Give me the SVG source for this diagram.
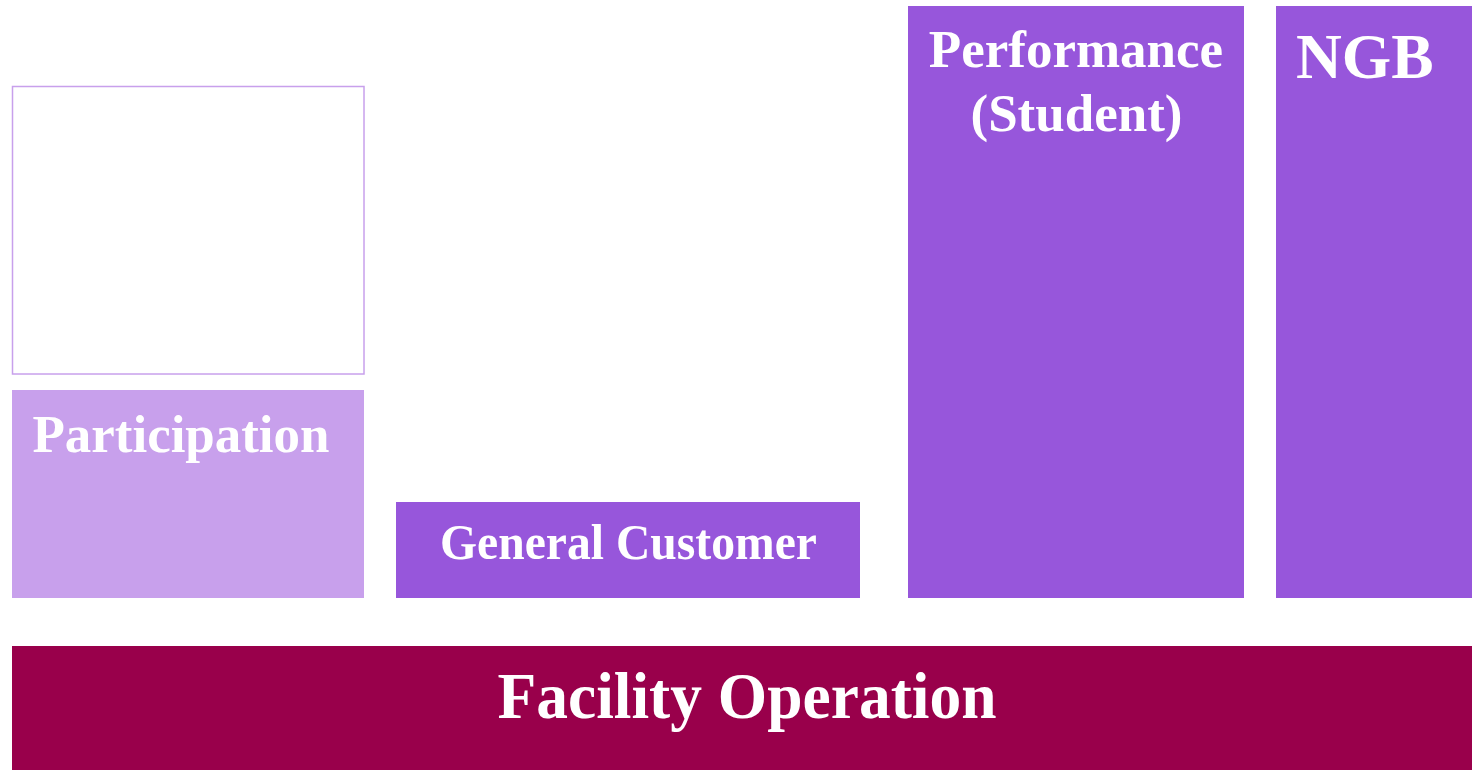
<svg xmlns="http://www.w3.org/2000/svg" width="1472" height="770" viewBox="0 0 1472 770">
<style>
.lbl{font-family:"Liberation Serif","Times New Roman",serif;font-weight:bold;fill:#ffffff}
.dark{fill:#9756DB}
.light{fill:#C8A0EC}
.base{fill:#99004B}
</style>
<rect width="1472" height="770" fill="#ffffff"/>
<g id="empty-box">
<rect x="12.5" y="86.5" width="351.5" height="287.5" fill="#ffffff" stroke="#C8A0EC" stroke-width="1.5"/>
</g>
<g id="participation">
<rect class="light" x="12" y="390" width="352" height="208"/>
<text class="lbl" x="32.5" y="452" font-size="53" textLength="297" lengthAdjust="spacingAndGlyphs">Participation</text>
</g>
<g id="general-customer">
<rect class="dark" x="396" y="502" width="464" height="96"/>
<text class="lbl" x="440" y="559" font-size="51" textLength="377" lengthAdjust="spacingAndGlyphs">General Customer</text>
</g>
<g id="performance">
<rect class="dark" x="908" y="6" width="336" height="592"/>
<text class="lbl" x="1076" y="66.5" font-size="53" text-anchor="middle">Performance</text>
<text class="lbl" x="1076.5" y="130.5" font-size="53" text-anchor="middle">(Student)</text>
</g>
<g id="ngb">
<rect class="dark" x="1276" y="6" width="196" height="592"/>
<text class="lbl" x="1364.7" y="77.5" font-size="63.5" text-anchor="middle">NGB</text>
</g>
<g id="facility-operation">
<rect class="base" x="12" y="646" width="1460" height="124"/>
<text class="lbl" x="497.5" y="717.5" font-size="65" textLength="499" lengthAdjust="spacingAndGlyphs">Facility Operation</text>
</g>
<g id="connectors"></g>
</svg>
